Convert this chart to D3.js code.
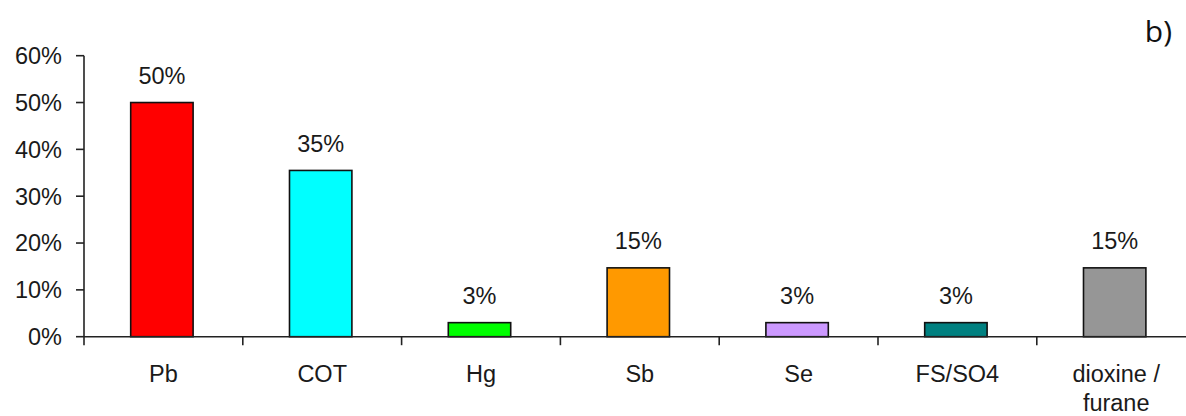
<!DOCTYPE html>
<html><head><meta charset="utf-8">
<script src="https://cdn.jsdelivr.net/npm/d3@7"></script>
<style>html,body{margin:0;padding:0;background:#fff;overflow:hidden}</style>
</head><body>
<svg id="c" width="1186" height="416"></svg>
<script>
const categories = ["Pb", "COT", "Hg", "Sb", "Se", "FS/SO4", "dioxine / furane"];
const categoryLines = [["Pb"], ["COT"], ["Hg"], ["Sb"], ["Se"], ["FS/SO4"], ["dioxine /", "furane"]];
const values = [0.50, 0.355, 0.03, 0.147, 0.03, 0.03, 0.147];
const valueLabels = ["50%", "35%", "3%", "15%", "3%", "3%", "15%"];
const colors = ["#FF0000", "#00FFFF", "#00FF00", "#FF9900", "#CC99FF", "#008080", "#969696"];
const yTicks = [0, 0.1, 0.2, 0.3, 0.4, 0.5, 0.6];
const panelLabel = "b)";

const svg = d3.select("#c");
const font = "'Liberation Sans', Arial, sans-serif";
const x = d3.scaleBand().domain(categories).range([84, 84 + 7 * 158.8]).padding(0);
const y = d3.scaleLinear().domain([0, 0.6]).range([336.7, 55.7]);
const barW = x.bandwidth() * 0.393;
const off = -1.5;
const txtColor = "#1a1a1a";
const fs = 23.5;

// bars
svg.selectAll("rect.bar").data(categories).join("rect")
  .attr("x", (d) => x(d) + x.bandwidth() / 2 - barW / 2 + off)
  .attr("y", (d, i) => y(values[i]))
  .attr("width", barW)
  .attr("height", (d, i) => y(0) - y(values[i]))
  .attr("fill", (d, i) => colors[i])
  .attr("stroke", "#111").attr("stroke-width", 1.6);

// value labels
svg.selectAll("text.val").data(categories).join("text")
  .attr("x", (d) => x(d) + x.bandwidth() / 2 + off)
  .attr("y", (d, i) => y(values[i]) - 18.5)
  .attr("text-anchor", "middle")
  .attr("font-family", font).attr("font-size", fs).attr("fill", txtColor)
  .text((d, i) => valueLabels[i]);

// y axis
const axisColor = "#222";
svg.append("line").attr("x1", 84).attr("x2", 84).attr("y1", y(0.6)).attr("y2", y(0) + 8.5)
  .attr("stroke", axisColor).attr("stroke-width", 1.6);
yTicks.forEach((t) => {
  svg.append("line").attr("x1", 76).attr("x2", 84).attr("y1", y(t)).attr("y2", y(t))
    .attr("stroke", axisColor).attr("stroke-width", 1.6);
  svg.append("text").attr("x", 62).attr("y", y(t)).attr("dy", "0.36em")
    .attr("text-anchor", "end").attr("font-family", font).attr("font-size", fs).attr("fill", txtColor)
    .text(d3.format(".0%")(t));
});

// x axis
svg.append("line").attr("x1", 84).attr("x2", x.range()[1]).attr("y1", y(0)).attr("y2", y(0))
  .attr("stroke", axisColor).attr("stroke-width", 1.6);
categories.forEach((c, i) => {
  if (i > 0) svg.append("line").attr("x1", x(c)).attr("x2", x(c)).attr("y1", y(0)).attr("y2", y(0) + 8.5)
    .attr("stroke", axisColor).attr("stroke-width", 1.6);
  const t = svg.append("text").attr("x", x(c) + x.bandwidth() / 2).attr("y", 382)
    .attr("text-anchor", "middle").attr("font-family", font).attr("font-size", fs).attr("fill", txtColor);
  categoryLines[i].forEach((ln, j) => {
    t.append("tspan").attr("x", x(c) + x.bandwidth() / 2).attr("dy", j === 0 ? 0 : 29).text(ln);
  });
});

// panel label
svg.append("text").attr("x", 1172).attr("y", 42).attr("text-anchor", "end")
  .attr("font-family", "'Open Sans', 'Noto Sans', sans-serif").attr("font-size", 30).attr("font-weight", 500).attr("fill", "#111")
  .text(panelLabel);
</script>
</body></html>
